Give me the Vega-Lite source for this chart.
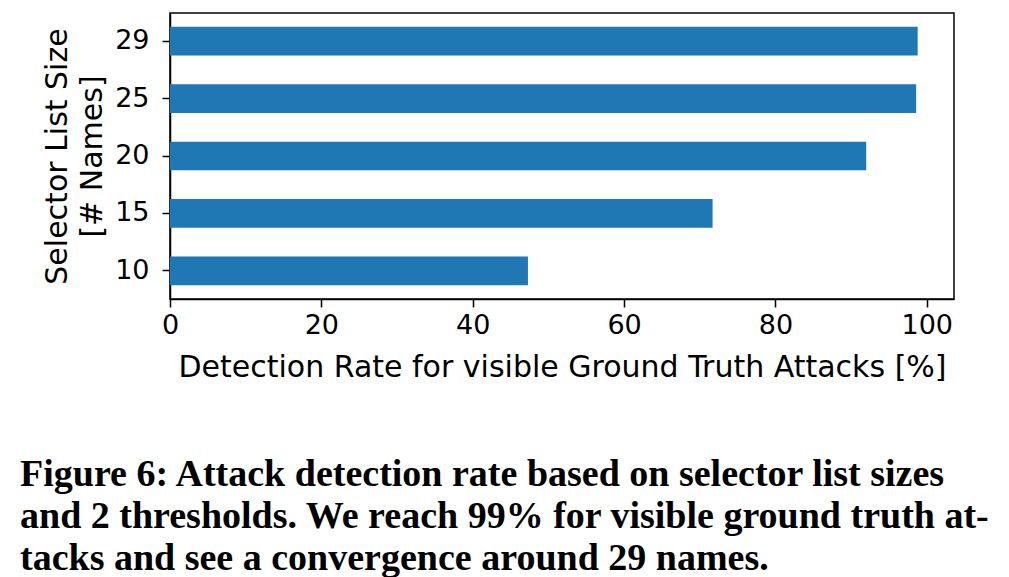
{
  "$schema": "https://vega.github.io/schema/vega-lite/v6.json",
  "autosize": {"type": "none"},
  "width": 784,
  "height": 286,
  "padding": {"left": 170, "top": 13, "right": 55, "bottom": 278},
  "background": "white",
  "data": {
    "values": [
      {"size": 10, "rate": 47.3},
      {"size": 15, "rate": 71.7},
      {"size": 20, "rate": 92.0},
      {"size": 25, "rate": 98.6},
      {"size": 29, "rate": 98.8}
    ]
  },
  "title": {
    "text": [
      "Figure 6: Attack detection rate based on selector list sizes",
      "and 2 thresholds. We reach 99% for visible ground truth at-",
      "tacks and see a convergence around 29 names."
    ],
    "orient": "bottom",
    "anchor": "start",
    "frame": "group",
    "dx": -150,
    "offset": 74,
    "font": "Liberation Serif",
    "fontWeight": "bold",
    "fontSize": 38,
    "lineHeight": 42,
    "color": "black"
  },
  "mark": {"type": "bar", "color": "#1f77b4"},
  "encoding": {
    "y": {
      "field": "size",
      "type": "ordinal",
      "sort": "descending",
      "scale": {"paddingInner": 0.5, "paddingOuter": 0.24},
      "axis": {
        "title": ["Selector List Size", "[# Names]"],
        "titleFont": "DejaVu Sans",
        "titleFontSize": 30,
        "titleFontWeight": "normal",
        "titleColor": "black",
        "titleLineHeight": 35,
        "titlePadding": 7,
        "labelFont": "DejaVu Sans",
        "labelFontSize": 27,
        "labelColor": "black",
        "labelPadding": 13,
        "labelAngle": 0,
        "tickSize": 8,
        "tickWidth": 1.5,
        "tickColor": "black",
        "domainColor": "black",
        "domainWidth": 1.5
      }
    },
    "x": {
      "field": "rate",
      "type": "quantitative",
      "scale": {"domain": [0, 103.6], "nice": false, "zero": true},
      "axis": {
        "title": "Detection Rate for visible Ground Truth Attacks [%]",
        "values": [0, 20, 40, 60, 80, 100],
        "grid": false,
        "titleFont": "DejaVu Sans",
        "titleFontSize": 30,
        "titleFontWeight": "normal",
        "titleColor": "black",
        "titlePadding": 14,
        "labelFont": "DejaVu Sans",
        "labelFontSize": 27,
        "labelColor": "black",
        "labelPadding": 5,
        "labelFlush": false,
        "tickSize": 8,
        "tickWidth": 1.5,
        "tickColor": "black",
        "domainColor": "black",
        "domainWidth": 1.5
      }
    }
  },
  "config": {
    "view": {"stroke": "black", "strokeWidth": 1.5},
    "axis": {"grid": false}
  }
}
